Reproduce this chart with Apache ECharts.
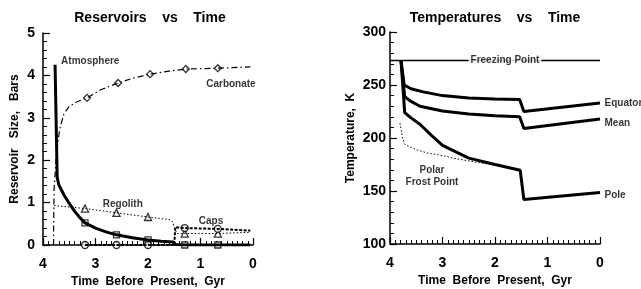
<!DOCTYPE html>
<html>
<head>
<meta charset="utf-8">
<script src="https://cdn.jsdelivr.net/npm/echarts@6/dist/echarts.min.js"></script>
<style>
  html, body { margin: 0; padding: 0; background: #fff; }
  #chart { width: 641px; height: 289px; }
</style>
</head>
<body>
<div id="chart"></div>
<script>
// ===== data: left panel (bars vs Gyr before present) =====
const atmosphere = [[3.77,4.25],[3.73,1.6],[3.7,1.42],[3.6,1.18],[3.5,0.98],[3.4,0.8],[3.3,0.65],[3.2,0.52],[3.0,0.4],[2.8,0.31],[2.6,0.24],[2.3,0.17],[2.0,0.12],[1.75,0.09],[1.52,0.07],[1.48,0.01],[1.3,0],[0.67,0],[0.05,0]];
const atmosphereMarks = [[3.2,0.52],[2.6,0.24],[2.0,0.12],[1.3,0],[0.67,0]];

const carbonate = [[3.8,0],[3.79,1.3],[3.74,2.2],[3.68,2.75],[3.6,3.1],[3.5,3.27],[3.35,3.38],[3.16,3.47],[2.9,3.66],[2.57,3.82],[2.3,3.93],[1.96,4.03],[1.6,4.1],[1.28,4.15],[0.67,4.17],[0.05,4.2]];
const carbonateMarks = [[3.16,3.47],[2.57,3.82],[1.96,4.03],[1.28,4.15],[0.67,4.17]];

const regolith = [[3.79,0.93],[3.2,0.86],[2.6,0.76],[2.0,0.66],[1.6,0.6],[1.53,0.55],[1.5,0.42],[1.45,0.27],[1.3,0.27],[0.67,0.27],[0.05,0.3]];
const regolithMarks = [[3.2,0.86],[2.6,0.76],[2.0,0.66],[1.3,0.27],[0.67,0.27]];

const caps = [[3.2,0],[2.6,0],[2.0,0],[1.5,0],[1.48,0.42],[1.3,0.4],[0.67,0.38],[0.05,0.34]];
const capsMarks = [[3.2,0],[2.6,0],[2.0,0],[1.3,0.4],[0.67,0.38]];

const leftNotes = [['Atmosphere',3.1,4.33],['Carbonate',0.42,3.78],['Regolith',2.48,0.97],['Caps',0.8,0.55]];

// ===== data: right panel (K vs Gyr before present) =====
const freezing = [[4,273],[0,273]];
const equator = [[3.79,273],[3.73,250],[3.6,246.5],[3.37,243.5],[3.0,240],[2.5,237.7],[2.0,236.8],[1.53,236.3],[1.45,225],[0,233]];
const mean = [[3.79,273],[3.72,239],[3.6,234.5],[3.43,230],[3.0,225.5],[2.5,222.6],[2.0,221],[1.53,220],[1.45,209],[0,218]];
const pole = [[3.79,273],[3.72,224],[3.6,219],[3.43,213],[3.2,202],[3.0,193],[2.5,181],[2.0,175],[1.52,169.5],[1.45,142],[0,148.5]];
const frost = [[3.81,214],[3.76,200],[3.71,193.5],[3.5,189],[3.3,186],[3.0,183.5],[2.8,181],[2.4,177.5],[2.0,174.5],[1.8,172.5]];

const rightNotes = [['Equator',0,233],['Mean',0,214],['Pole',0,146]];
const freezeNote = [['Freezing Point',1.81,273]];
const frostNote = [['Polar\nFrost Point',3.2,164]];

const titles = ['Reservoirs    vs    Time', 'Temperatures    vs    Time'];

// ===== helpers =====
const FONT = 'Liberation Sans, Arial, Helvetica, sans-serif';

function xAxisOf(gi){
    return {
        gridIndex: gi, type: 'value', min: 0, max: 4, interval: 1, inverse: true,
        name: 'Time  Before  Present,  Gyr', nameLocation: 'middle', nameGap: 29,
        nameTextStyle: { fontFamily: FONT, fontWeight: 'bold', fontSize: 12, color: '#000' },
        axisLine: { show: true, onZero: false, lineStyle: { color: '#000', width: 1.5 } },
        axisTick: { show: true, inside: true, length: 7, lineStyle: { color: '#000', width: 1.2 } },
        minorTick: { show: true, splitNumber: 10, length: 4, lineStyle: { color: '#000', width: 1 } },
        axisLabel: { fontFamily: FONT, fontWeight: 'bold', fontSize: 14, color: '#000', margin: 12 },
        splitLine: { show: false }
    };
}

function yAxisOf(gi, min, max, interval, name, gap, margin){
    return {
        gridIndex: gi, type: 'value', min, max, interval, position: 'left',
        name, nameLocation: 'middle', nameGap: gap,
        nameTextStyle: { fontFamily: FONT, fontWeight: 'bold', fontSize: 12, color: '#000' },
        axisLine: { show: true, onZero: false, lineStyle: { color: '#000', width: 1.5 } },
        axisTick: { show: true, inside: true, length: 7, lineStyle: { color: '#000', width: 1.2 } },
        minorTick: { show: true, splitNumber: 5, length: 4, lineStyle: { color: '#000', width: 1 } },
        axisLabel: { fontFamily: FONT, fontWeight: 'bold', fontSize: 14, color: '#000', margin },
        splitLine: { show: false }
    };
}

function line(gi, data, width, type){
    return {
        type: 'line', xAxisIndex: gi, yAxisIndex: gi, data,
        symbol: 'none', showSymbol: false,
        lineStyle: { color: '#000', width, type }
    };
}

function marks(gi, data, symbol, size){
    return {
        type: 'scatter', xAxisIndex: gi, yAxisIndex: gi, data, symbol, symbolSize: size,
        itemStyle: { color: '#fff', borderColor: '#000', borderWidth: 1.3 }
    };
}

function notes(gi, list, position, extra){
    return {
        type: 'scatter', xAxisIndex: gi, yAxisIndex: gi, symbolSize: 1, z: 3,
        itemStyle: { color: 'rgba(0,0,0,0)' },
        data: list.map(n => ({ name: n[0], value: [n[1], n[2]] })),
        label: Object.assign({
            show: true, position, formatter: '{b}', distance: 4,
            fontFamily: FONT, fontWeight: 'bold', fontSize: 10, color: '#000'
        }, extra || {})
    };
}

// ===== chart =====
const chart = echarts.init(document.getElementById('chart'));
chart.setOption({
    animation: false,
    backgroundColor: '#fff',
    graphic: titles.map((t, i) => ({
        type: 'text', x: i ? 495 : 150, y: 11,
        style: { text: t, align: 'center', fontFamily: FONT, fontWeight: 'bold', fontSize: 14, fill: '#000' }
    })),
    grid: [
        { left: 43, top: 33, width: 210, height: 212, outerBoundsMode: 'none' },
        { left: 390, top: 32, width: 210, height: 212, outerBoundsMode: 'none' }
    ],
    xAxis: [ xAxisOf(0), xAxisOf(1) ],
    yAxis: [
        yAxisOf(0, 0, 5, 1, 'Reservoir   Size,   Bars', 22, 8),
        yAxisOf(1, 100, 300, 50, 'Temperature,  K', 33, 4)
    ],
    series: [
        line(0, carbonate, 1.2, [6,3,1.5,3]),
        line(0, regolith, 1, [1.5,2]),
        line(0, caps, 2, [3,1.5]),
        line(0, atmosphere, 3, 'solid'),
        marks(0, atmosphereMarks, 'rect', 6),
        marks(0, carbonateMarks, 'diamond', 7),
        marks(0, regolithMarks, 'triangle', 7),
        marks(0, capsMarks, 'circle', 7),
        notes(0, leftNotes, 'inside'),

        line(1, freezing, 1.5, 'solid'),
        line(1, frost, 1, [1.5,2]),
        line(1, equator, 3, 'solid'),
        line(1, mean, 3, 'solid'),
        line(1, pole, 3, 'solid'),
        notes(1, rightNotes, 'right'),
        notes(1, freezeNote, 'inside', { backgroundColor: '#fff', padding: [1,2] }),
        notes(1, frostNote, 'inside', { lineHeight: 12, align: 'center' })
    ]
});
</script>
</body>
</html>
